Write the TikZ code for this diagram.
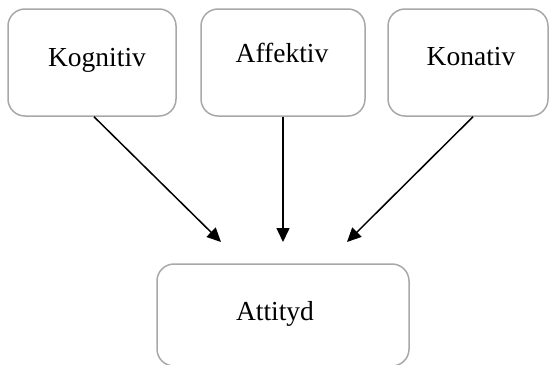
\documentclass[tikz,border=0pt]{standalone}
\usepackage{fontspec}
\setmainfont{Liberation Serif}
\usepackage{tikz}
\usetikzlibrary{calc,positioning,arrows.meta}
\definecolor{boxgray}{RGB}{168,168,168}

\begin{document}
\begin{tikzpicture}[x=0.5pt,y=-0.5pt,
    box/.style={draw=boxgray,line width=0.75pt,rounded corners=8.5pt,inner sep=0pt},
    lbl/.style={anchor=base,inner sep=0pt,font=\fontsize{13.75}{16}\selectfont},
    arr/.style={line width=0.75pt,-{Triangle[length=7pt,width=6.5pt]}}]
    \useasboundingbox (0,0) rectangle (549,364);

    \node[box,minimum width=84pt,minimum height=53.5pt] (kog) at (92,62.5) {};
    \node[box,minimum width=82pt,minimum height=53.5pt] (aff) at (283,62.5) {};
    \node[box,minimum width=80pt,minimum height=53.5pt] (kon) at (468,62.5) {};
    \node[box,minimum width=126pt,minimum height=51pt] (att) at (283,315) {};

    \node[lbl] (kogtxt) at (97,66) {Kognitiv};
    \node[lbl] (afftxt) at (282,62) {Affektiv};
    \node[lbl] (kontxt) at (471,65) {Konativ};
    \node[lbl] (atttxt) at (275,320) {Attityd};

    \coordinate (T1) at (221,242);
    \coordinate (T2) at (283,242);
    \coordinate (T3) at (347,242);

    \draw[arr] ($(kog.south)+(2,0)$) -- (T1);
    \draw[arr] (aff.south) -- (T2);
    \draw[arr] ($(kon.south)+(5,0)$) -- (T3);
\end{tikzpicture}
\end{document}
